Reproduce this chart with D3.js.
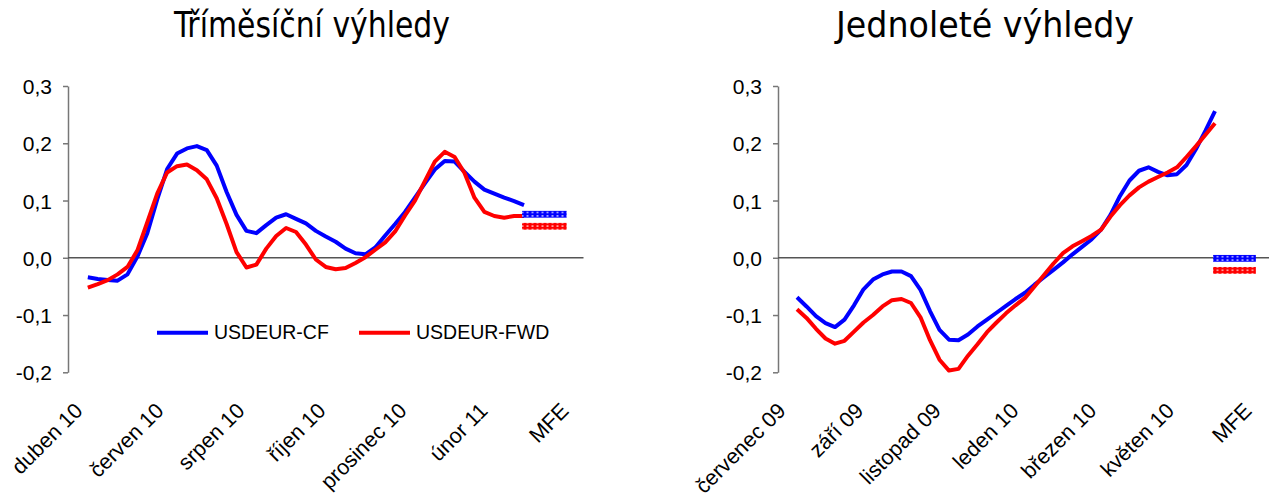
<!DOCTYPE html>
<html>
<head>
<meta charset="utf-8">
<script src="https://cdn.jsdelivr.net/npm/d3@7"></script>
<style>
  body { margin: 0; background: #fff; }
  svg text { font-family: "Liberation Sans", Arial, sans-serif; fill: #000; }
  .title { font-family: "DejaVu Sans Condensed", "DejaVu Sans", sans-serif; }
</style>
</head>
<body>
<svg id="chart" width="1269" height="493"></svg>
<script>
// values, one sample every ~week
var yTicks = [-0.2, -0.1, 0.0, 0.1, 0.2, 0.3];

var leftLabels = ["duben 10", "červen 10", "srpen 10", "říjen 10", "prosinec 10", "únor 11", "MFE"];
var leftCF = [-0.034, -0.037, -0.039, -0.040, -0.029, 0.002, 0.043, 0.102, 0.155, 0.182,
              0.191, 0.195, 0.188, 0.161, 0.115, 0.075, 0.047, 0.043, 0.057, 0.070,
              0.076, 0.068, 0.060, 0.047, 0.037, 0.028, 0.016, 0.008, 0.006, 0.018,
              0.039, 0.059, 0.080, 0.105, 0.130, 0.154, 0.169, 0.168, 0.150, 0.133,
              0.119, 0.112, 0.105, 0.099, 0.092];
var leftFWD = [-0.052, -0.046, -0.039, -0.029, -0.016, 0.013, 0.062, 0.112, 0.149, 0.160,
               0.163, 0.153, 0.137, 0.104, 0.059, 0.010, -0.017, -0.012, 0.016, 0.038,
               0.052, 0.045, 0.023, -0.003, -0.016, -0.020, -0.018, -0.009, 0.001, 0.014,
               0.027, 0.046, 0.074, 0.100, 0.134, 0.168, 0.185, 0.176, 0.148, 0.105,
               0.080, 0.073, 0.070, 0.073, 0.073];
var leftMFE = [0.076, 0.055];   // CF, FWD

var rightLabels = ["červenec 09", "září 09", "listopad 09", "leden 10", "březen 10", "květen 10", "MFE"];
var rightCF = [-0.069, -0.085, -0.102, -0.114, -0.121, -0.108, -0.083, -0.055, -0.038, -0.029,
               -0.024, -0.024, -0.032, -0.056, -0.093, -0.126, -0.143, -0.144, -0.134, -0.120,
               -0.108, -0.096, -0.084, -0.072, -0.061, -0.047, -0.034, -0.021, -0.008, 0.006,
               0.019, 0.032, 0.049, 0.075, 0.108, 0.135, 0.152, 0.158, 0.150, 0.144,
               0.146, 0.162, 0.190, 0.222, 0.256];
var rightFWD = [-0.090, -0.105, -0.124, -0.141, -0.150, -0.145, -0.129, -0.113, -0.100, -0.085,
                -0.074, -0.072, -0.079, -0.104, -0.144, -0.178, -0.197, -0.194, -0.171, -0.151,
                -0.130, -0.113, -0.097, -0.083, -0.070, -0.050, -0.030, -0.010, 0.008, 0.020,
                0.029, 0.038, 0.049, 0.072, 0.092, 0.109, 0.123, 0.133, 0.141, 0.149,
                0.158, 0.176, 0.195, 0.215, 0.235];
var rightMFE = [-0.001, -0.022];

var seriesNames = ["USDEUR-CF", "USDEUR-FWD"];
var colors = ["#0000ff", "#ff0000"];
var mfeSlot = [43.8, 48.3];   // the MFE box spans these sample slots

var svg = d3.select("#chart");
var defs = svg.append("defs");

// dotted fill for the MFE boxes
colors.forEach(function(c, i) {
  var p = defs.append("pattern")
      .attr("id", "pat" + i)
      .attr("width", 5).attr("height", 3.4)
      .attr("patternUnits", "userSpaceOnUse");
  p.append("rect").attr("width", 5).attr("height", 3.4).attr("fill", c);
  p.append("rect").attr("x", 1.5).attr("y", 1).attr("width", 2).attr("height", 1.4).attr("fill", "#fff").attr("opacity", 0.75);
});

var y = d3.scaleLinear().domain([-0.2, 0.3]).range([372.3, 86]);

function drawPanel(opt) {
  var g = svg.append("g");
  var x = d3.scaleLinear().domain([-2, 50]).range(opt.xRange);

  // title
  g.append("text")
    .attr("class", "title")
    .attr("x", opt.titleX)
    .attr("y", 37)
    .attr("text-anchor", "middle")
    .attr("textLength", opt.titleLen)
    .attr("lengthAdjust", "spacingAndGlyphs")
    .style("font-size", "35px")
    .text(opt.title);

  // y axis
  var yAxis = d3.axisLeft(y)
      .tickValues(yTicks)
      .tickSize(5)
      .tickSizeOuter(0)
      .tickPadding(11)
      .tickFormat(function(d) { return d.toFixed(1).replace(".", ","); });
  var ya = g.append("g")
      .attr("transform", "translate(" + x(-2) + ",0)")
      .call(yAxis);
  ya.selectAll("path, line").attr("stroke", "#777").attr("stroke-width", 1.5);
  ya.selectAll("text").style("font-size", "21px").attr("dy", "0.36em");

  // zero line
  g.append("line")
    .attr("x1", x(-2)).attr("x2", x(50))
    .attr("y1", y(0)).attr("y2", y(0))
    .attr("stroke", "#555").attr("stroke-width", 1.5);

  // category labels
  var lx = d3.scalePoint().domain(opt.labels).range(opt.labelRange);
  g.selectAll(".xlab")
    .data(opt.labels)
    .enter()
    .append("text")
    .attr("class", "xlab")
    .attr("text-anchor", "end")
    .attr("transform", function(d) { return "translate(" + lx(d) + ",412) rotate(-45)"; })
    .style("font-size", "21.5px")
    .text(function(d) { return d; });

  // lines
  var line = d3.line()
      .x(function(d, i) { return x(i); })
      .y(function(d) { return y(d); });
  [opt.cf, opt.fwd].forEach(function(s, i) {
    g.append("path")
      .datum(s)
      .attr("d", line)
      .attr("fill", "none")
      .attr("stroke", colors[i])
      .attr("stroke-width", 4)
      .attr("stroke-linejoin", "round");
  });

  // MFE boxes
  g.selectAll(".mfe")
    .data(opt.mfe)
    .enter()
    .append("rect")
    .attr("x", x(mfeSlot[0]))
    .attr("width", x(mfeSlot[1]) - x(mfeSlot[0]))
    .attr("y", function(d) { return y(d) - 3.4; })
    .attr("height", 6.8)
    .attr("fill", function(d, i) { return "url(#pat" + i + ")"; });
  return g;
}

var left = drawPanel({
  xRange: [68, 583.5], title: "Tříměsíční výhledy", titleX: 312, titleLen: 276,
  labels: leftLabels, labelRange: [84, 570],
  cf: leftCF, fwd: leftFWD, mfe: leftMFE
});
drawPanel({
  xRange: [778, 1272], title: "Jednoleté výhledy", titleX: 985, titleLen: 298,
  labels: rightLabels, labelRange: [787, 1253],
  cf: rightCF, fwd: rightFWD, mfe: rightMFE
});

// legend (left panel only)
var legX = [157, 359];
seriesNames.forEach(function(n, i) {
  left.append("line")
    .attr("x1", legX[i]).attr("x2", legX[i] + 51)
    .attr("y1", 332.7).attr("y2", 332.7)
    .attr("stroke", colors[i]).attr("stroke-width", 4);
  left.append("text")
    .attr("x", legX[i] + 57)
    .attr("y", 339)
    .style("font-size", "19.5px")
    .text(n);
});
</script>
</body>
</html>
